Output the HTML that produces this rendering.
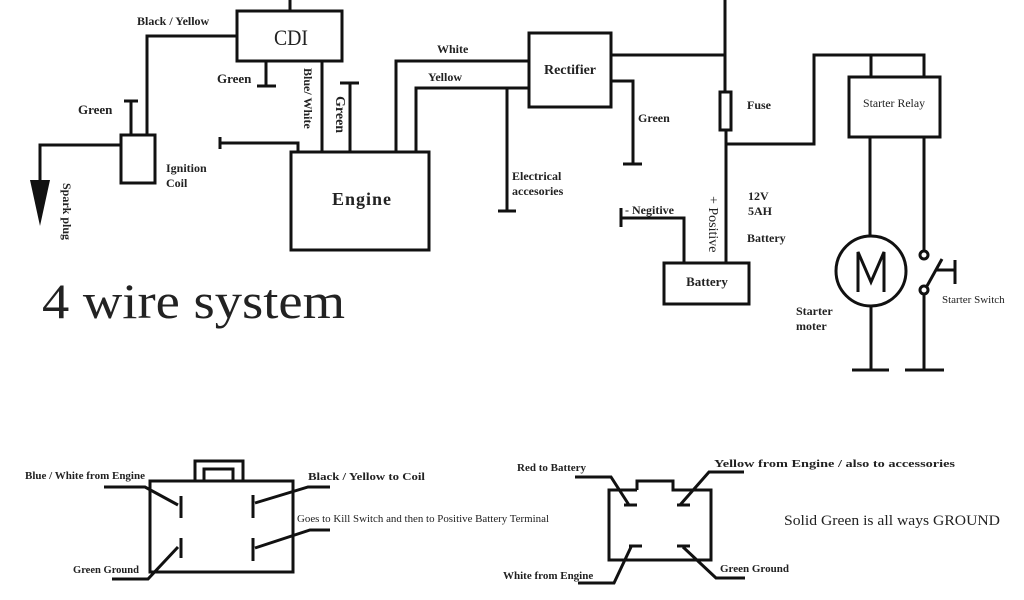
<!DOCTYPE html>
<html><head><meta charset="utf-8"><style>
html,body{margin:0;padding:0;background:#fff;}
svg{display:block;}
text{font-family:"Liberation Serif",serif;font-weight:bold;fill:#222;}
</style></head><body>
<svg width="1024" height="600" viewBox="0 0 1024 600" xmlns="http://www.w3.org/2000/svg">
<g stroke="#111" stroke-width="3" fill="none">
<rect x="237" y="11" width="105" height="50"/>
<line x1="290" y1="0" x2="290" y2="11"/>
<polyline points="237,36 147,36 147,135"/>
<line x1="266" y1="61" x2="266" y2="86"/><line x1="257" y1="86" x2="276" y2="86"/>
<line x1="322" y1="61" x2="322" y2="152"/>
<line x1="350" y1="83" x2="350" y2="152"/><line x1="340" y1="83" x2="359" y2="83"/>
<rect x="121" y="135" width="34" height="48"/>
<line x1="131" y1="101" x2="131" y2="135"/><line x1="124" y1="101" x2="138" y2="101"/>
<polyline points="121,145 40,145 40,185"/>
<rect x="291" y="152" width="138" height="98"/>
<polyline points="220,143 298,143 298,152"/><line x1="220" y1="137" x2="220" y2="149"/>
<polyline points="396,152 396,61 529,61"/>
<polyline points="416,152 416,88 529,88"/>
<line x1="507" y1="88" x2="507" y2="211"/><line x1="498" y1="211" x2="516" y2="211"/>
<rect x="529" y="33" width="82" height="74"/>
<line x1="611" y1="55" x2="725" y2="55"/>
<polyline points="611,81 633,81 633,164"/><line x1="623" y1="164" x2="642" y2="164"/>
<line x1="725" y1="0" x2="725" y2="92"/>
<rect x="720" y="92" width="11" height="38"/>
<line x1="726" y1="130" x2="726" y2="263"/>
<polyline points="726,144 814,144 814,55 924,55 924,77"/>
<line x1="871" y1="55" x2="871" y2="77"/>
<rect x="849" y="77" width="91" height="60"/>
<line x1="870" y1="137" x2="870" y2="236"/>
<circle cx="871" cy="271" r="35"/>
<line x1="871" y1="306" x2="871" y2="370"/><line x1="852" y1="370" x2="889" y2="370"/>
<line x1="924" y1="137" x2="924" y2="251"/>
<circle cx="924" cy="255" r="4"/>
<circle cx="924" cy="290" r="4"/>
<line x1="927" y1="286" x2="942" y2="259"/>
<line x1="936" y1="270" x2="955" y2="270"/><line x1="955" y1="260" x2="955" y2="284"/>
<line x1="924" y1="294" x2="924" y2="370"/><line x1="905" y1="370" x2="944" y2="370"/>
<rect x="664" y="263" width="85" height="41"/>
<polyline points="684,263 684,218 621,218"/><line x1="621" y1="208" x2="621" y2="227"/>
<rect x="150" y="481" width="143" height="91"/>
<rect x="195" y="461" width="48" height="20"/>
<rect x="204" y="469" width="29" height="12"/>
<polyline points="104,487 145,487 178,505"/>
<line x1="181" y1="496" x2="181" y2="518"/>
<polyline points="112,579 148,579 178,547"/>
<line x1="181" y1="538" x2="181" y2="558"/>
<polyline points="330,487 308,487 255,503"/>
<line x1="253" y1="495" x2="253" y2="518"/>
<polyline points="330,530 310,530 255,548"/>
<line x1="253" y1="538" x2="253" y2="561"/>
<polyline points="637,490 609,490 609,560 711,560 711,490 673,490 673,481 637,481 637,490"/>
<line x1="624" y1="505" x2="637" y2="505"/><line x1="677" y1="505" x2="690" y2="505"/>
<line x1="629" y1="546" x2="642" y2="546"/><line x1="677" y1="546" x2="690" y2="546"/>
<polyline points="575,477 611,477 629,505"/>
<polyline points="744,472 709,472 680,505"/>
<polyline points="578,583 614,583 631,547"/>
<polyline points="745,578 716,578 683,547"/>
</g>
<polygon points="30,180 50,180 40,226" fill="#111"/>
<polyline points="858,292 858,252 871,282 884,252 884,292" stroke="#111" stroke-width="3" fill="none"/>
<text x="137" y="25" font-size="12">Black / Yellow</text>
<text x="274" y="45" font-size="22" textLength="34" lengthAdjust="spacingAndGlyphs" style="font-weight:normal">CDI</text>
<text x="217" y="83" font-size="13">Green</text>
<text x="78" y="114" font-size="13">Green</text>
<text x="166" y="172" font-size="12">Ignition</text>
<text x="166" y="187" font-size="12">Coil</text>
<text transform="translate(63,183) rotate(90)" font-size="12">Spark plug</text>
<text transform="translate(304,68) rotate(90)" font-size="12">Blue/ White</text>
<text transform="translate(336,96) rotate(90)" font-size="14">Green</text>
<text x="362" y="205" font-size="18" text-anchor="middle" letter-spacing="1">Engine</text>
<text x="437" y="53" font-size="12">White</text>
<text x="428" y="81" font-size="12">Yellow</text>
<text x="570" y="74" font-size="14" text-anchor="middle">Rectifier</text>
<text x="638" y="122" font-size="12">Green</text>
<text x="512" y="180" font-size="12">Electrical</text>
<text x="512" y="195" font-size="12">accesories</text>
<text x="747" y="109" font-size="12">Fuse</text>
<text x="863" y="107" font-size="12" textLength="62" lengthAdjust="spacingAndGlyphs" style="font-weight:normal">Starter Relay</text>
<text x="748" y="200" font-size="12">12V</text>
<text x="748" y="215" font-size="12">5AH</text>
<text x="747" y="242" font-size="12">Battery</text>
<text x="625" y="214" font-size="12">- Negitive</text>
<text transform="translate(709,196) rotate(90)" font-size="14" style="font-weight:normal">+ Positive</text>
<text x="707" y="286" font-size="13" text-anchor="middle">Battery</text>
<text x="796" y="315" font-size="12">Starter</text>
<text x="796" y="330" font-size="12">moter</text>
<text x="942" y="303" font-size="11" style="font-weight:normal">Starter Switch</text>
<text x="42" y="318" font-size="50" textLength="303" lengthAdjust="spacingAndGlyphs" style="font-weight:normal">4 wire system</text>
<text x="25" y="479" font-size="10" textLength="120" lengthAdjust="spacingAndGlyphs">Blue / White from Engine</text>
<text x="308" y="480" font-size="11" textLength="117" lengthAdjust="spacingAndGlyphs">Black / Yellow to Coil</text>
<text x="297" y="522" font-size="10" textLength="252" lengthAdjust="spacingAndGlyphs" style="font-weight:normal">Goes to Kill Switch and then to Positive Battery Terminal</text>
<text x="73" y="573" font-size="11" textLength="66" lengthAdjust="spacingAndGlyphs">Green Ground</text>
<text x="517" y="471" font-size="11">Red to Battery</text>
<text x="714" y="467" font-size="11" textLength="241" lengthAdjust="spacingAndGlyphs">Yellow from Engine / also to accessories</text>
<text x="503" y="579" font-size="11">White from Engine</text>
<text x="720" y="572" font-size="11">Green Ground</text>
<text x="784" y="525" font-size="15" textLength="216" lengthAdjust="spacingAndGlyphs" style="font-weight:normal">Solid Green is all ways GROUND</text>
</svg>
</body></html>
